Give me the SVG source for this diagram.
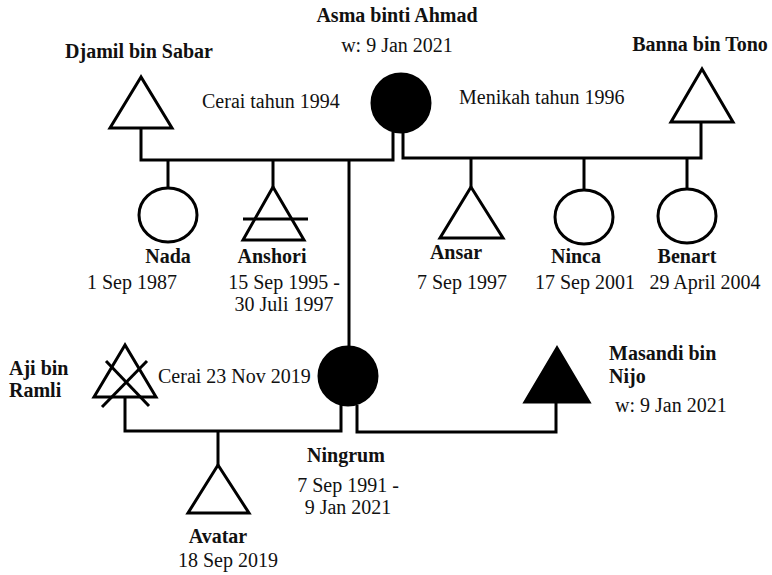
<svg xmlns="http://www.w3.org/2000/svg" width="772" height="575" viewBox="0 0 772 575">
  <style>
    .shape { fill: #fff; stroke: #000; stroke-width: 3; }
    .filled { fill: #000; stroke: #000; stroke-width: 3; }
    .line { fill: none; stroke: #000; stroke-width: 3; }
    text { font-family: "Liberation Serif", "Times New Roman", serif; font-size: 20px; fill: #111; }
    .name { font-weight: bold; }
    .mid { text-anchor: middle; }
  </style>
  <rect width="772" height="575" fill="#fff"/>

  <!-- connectors -->
  <g id="connectors" class="line">
    <!-- first marriage: Djamil - Asma -->
    <polyline points="141,128 141,160 393,160 393,132"/>
    <line x1="168" y1="160" x2="168" y2="188"/>
    <line x1="273" y1="160" x2="273" y2="187"/>
    <line x1="349" y1="160" x2="349" y2="346"/>
    <!-- second marriage: Asma - Banna -->
    <polyline points="403,132 403,158 701,158 701,122"/>
    <line x1="471" y1="158" x2="471" y2="187"/>
    <line x1="584" y1="158" x2="584" y2="190"/>
    <line x1="687" y1="158" x2="687" y2="189"/>
    <!-- Ningrum - Aji -->
    <polyline points="125,397 125,431 341,431 341,405"/>
    <line x1="218" y1="431" x2="218" y2="465"/>
    <!-- Ningrum - Masandi -->
    <polyline points="357,405 357,432 556,432 556,402"/>
  </g>

  <!-- Djamil bin Sabar -->
  <g id="djamil">
    <polygon class="shape" points="141,77 110,128 172,128"/>
    <text class="name mid" x="139" y="58">Djamil bin Sabar</text>
  </g>

  <!-- Asma binti Ahmad -->
  <g id="asma">
    <circle class="filled" cx="401" cy="103" r="29"/>
    <text class="name mid" x="397" y="22">Asma binti Ahmad</text>
    <text class="mid" x="397" y="52">w: 9 Jan 2021</text>
  </g>

  <!-- Banna bin Tono -->
  <g id="banna">
    <polygon class="shape" points="702,69 671,122 733,122"/>
    <text class="name mid" x="700" y="51">Banna bin Tono</text>
  </g>

  <g id="marriage-labels">
    <text x="202" y="108">Cerai tahun 1994</text>
    <text x="459" y="104">Menikah tahun 1996</text>
  </g>

  <!-- Nada -->
  <g id="nada">
    <ellipse class="shape" cx="168" cy="215" rx="29" ry="27"/>
    <text class="name mid" x="168" y="263">Nada</text>
    <text class="mid" x="132" y="289">1 Sep 1987</text>
  </g>

  <!-- Anshori -->
  <g id="anshori">
    <polygon class="shape" points="273,187 243,240 304,240"/>
    <line class="line" x1="243" y1="219" x2="308" y2="219"/>
    <text class="name mid" x="272" y="263">Anshori</text>
    <text class="mid" x="284" y="289">15 Sep 1995 -</text>
    <text class="mid" x="284" y="311">30 Juli 1997</text>
  </g>

  <!-- Ansar -->
  <g id="ansar">
    <polygon class="shape" points="471,187 440,238 503,238"/>
    <text class="name mid" x="456" y="259">Ansar</text>
    <text class="mid" x="462" y="289">7 Sep 1997</text>
  </g>

  <!-- Ninca -->
  <g id="ninca">
    <ellipse class="shape" cx="584" cy="217" rx="29" ry="27"/>
    <text class="name mid" x="576" y="263">Ninca</text>
    <text class="mid" x="585" y="289">17 Sep 2001</text>
  </g>

  <!-- Benart -->
  <g id="benart">
    <ellipse class="shape" cx="687" cy="216" rx="29" ry="27"/>
    <text class="name mid" x="687" y="263">Benart</text>
    <text class="mid" x="705" y="289">29 April 2004</text>
  </g>

  <!-- Aji bin Ramli -->
  <g id="aji">
    <polygon class="shape" points="125,345 94,397 156,397"/>
    <line class="line" x1="106" y1="361" x2="149" y2="406"/>
    <line class="line" x1="147" y1="361" x2="102" y2="407"/>
    <text class="name" x="9" y="375">Aji bin</text>
    <text class="name" x="9" y="397">Ramli</text>
  </g>

  <text x="158" y="383">Cerai 23 Nov 2019</text>

  <!-- Ningrum -->
  <g id="ningrum">
    <circle class="filled" cx="348" cy="376" r="29"/>
    <text class="name mid" x="346" y="462">Ningrum</text>
    <text class="mid" x="348" y="492">7 Sep 1991 -</text>
    <text class="mid" x="348" y="514">9 Jan 2021</text>
  </g>

  <!-- Masandi bin Nijo -->
  <g id="masandi">
    <polygon class="filled" points="557,348 525,402 589,402"/>
    <text class="name" x="609" y="360">Masandi bin</text>
    <text class="name" x="609" y="383">Nijo</text>
    <text x="615" y="412">w: 9 Jan 2021</text>
  </g>

  <!-- Avatar -->
  <g id="avatar">
    <polygon class="shape" points="218,465 188,513 249,513"/>
    <text class="name mid" x="218" y="543">Avatar</text>
    <text class="mid" x="228" y="567">18 Sep 2019</text>
  </g>
</svg>
